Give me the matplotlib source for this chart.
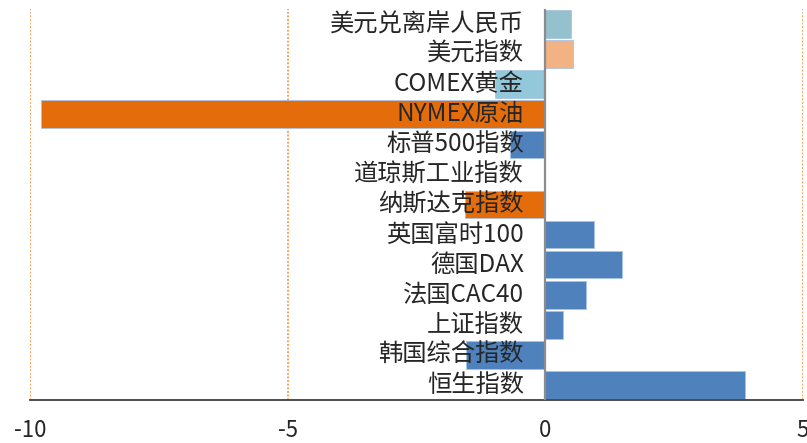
import matplotlib
matplotlib.use("Agg")
import matplotlib.pyplot as plt

plt.rcParams['font.family'] = ['Noto Sans CJK SC', 'DejaVu Sans']

categories = ['美元兑离岸人民币', '美元指数', 'COMEX黄金', 'NYMEX原油', '标普500指数',
              '道琼斯工业指数', '纳斯达克指数', '英国富时100', '德国DAX', '法国CAC40',
              '上证指数', '韩国综合指数', '恒生指数']
values = [0.49, 0.54, -0.97, -9.79, -0.68, 0.0, -1.55, 0.94, 1.48, 0.78, 0.34, -1.54, 3.87]
colors = ['#95C0CD', '#F2B283', '#92C8DA', '#E46C0A', '#4F81BD', '#4F81BD', '#E46C0A',
          '#4F81BD', '#4F81BD', '#4F81BD', '#4F81BD', '#4F81BD', '#4F81BD']
xticks = [-10, -5, 0, 5]

fig = plt.figure(figsize=(8.07, 4.43), dpi=100)
ax = fig.add_axes([30/807, 43/443, 773/807, 391/443])

ypos = list(range(len(categories)))
ax.barh(ypos, values, height=0.92, color=colors, edgecolor='#A9C4E4', linewidth=0.6, zorder=2)

ax.set_xlim(-10, 5)
ax.set_ylim(len(categories) - 0.5, -0.5)

for x in [-10, -5, 5]:
    ax.axvline(x, color='#F79646', linestyle=(0, (1, 1)), linewidth=1.3, zorder=1)
ax.axvline(0, color='#8C8C8C', linewidth=1.6, zorder=3)

for y, name in zip(ypos, categories):
    ax.annotate(name, xy=(0, y), xytext=(-15.5, 0), textcoords='offset points',
                ha='right', va='center', fontsize=17.5, color='#262626', zorder=4)

ax.set_yticks([])
ax.set_xticks(xticks)
ax.set_xticklabels([str(t) for t in xticks], fontsize=16, color='#262626')
ax.tick_params(axis='x', length=0, pad=14)
for s in ['top', 'left', 'right']:
    ax.spines[s].set_visible(False)
ax.spines['bottom'].set_linestyle((0, (1, 1)))
ax.spines['bottom'].set_color('#404040')
ax.spines['bottom'].set_linewidth(1.3)

fig.savefig('out.png', dpi=100)
